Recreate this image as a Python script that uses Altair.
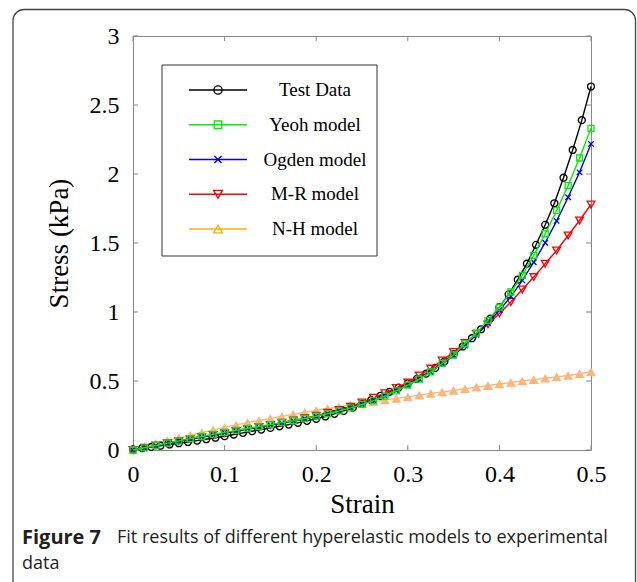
import altair as alt
import pandas as pd

# ---------------- data ----------------
MODEL_STRAIN = [0, 0.0125, 0.025, 0.0375, 0.05, 0.0625, 0.075, 0.0875, 0.1, 0.1125,
                0.125, 0.1375, 0.15, 0.1625, 0.175, 0.1875, 0.2, 0.2125, 0.225, 0.2375,
                0.25, 0.2625, 0.275, 0.2875, 0.3, 0.3125, 0.325, 0.3375, 0.35, 0.3625,
                0.375, 0.3875, 0.4, 0.4125, 0.425, 0.4375, 0.45, 0.4625, 0.475, 0.4875, 0.5]
TEST_STRAIN = [0, 0.01, 0.02, 0.03, 0.04, 0.05, 0.06, 0.07, 0.08, 0.09,
               0.1, 0.11, 0.12, 0.13, 0.14, 0.15, 0.16, 0.17, 0.18, 0.19,
               0.2, 0.21, 0.22, 0.23, 0.24, 0.25, 0.26, 0.27, 0.28, 0.29,
               0.3, 0.31, 0.32, 0.33, 0.34, 0.35, 0.36, 0.37, 0.38, 0.39,
               0.4, 0.41, 0.42, 0.43, 0.44, 0.45, 0.46, 0.47, 0.48, 0.49, 0.5]
TEST_DATA = [0.005, 0.013, 0.022, 0.031, 0.040, 0.049, 0.058, 0.068, 0.078, 0.089,
             0.100, 0.112, 0.124, 0.136, 0.148, 0.160, 0.172, 0.184, 0.197, 0.211,
             0.226, 0.243, 0.262, 0.283, 0.307, 0.333, 0.362, 0.392, 0.422, 0.452,
             0.483, 0.516, 0.553, 0.595, 0.642, 0.694, 0.750, 0.810, 0.875, 0.952,
             1.035, 1.128, 1.234, 1.350, 1.487, 1.632, 1.788, 1.973, 2.174, 2.390, 2.634]
YEOH = [0, 0.016, 0.033, 0.050, 0.066, 0.082, 0.098, 0.113, 0.128, 0.142,
        0.156, 0.170, 0.184, 0.198, 0.212, 0.228, 0.245, 0.263, 0.283, 0.305,
        0.330, 0.358, 0.390, 0.428, 0.470, 0.513, 0.566, 0.627, 0.690, 0.770,
        0.848, 0.940, 1.036, 1.145, 1.265, 1.410, 1.567, 1.735, 1.916, 2.116, 2.331]
OGDEN = [0, 0.015, 0.031, 0.047, 0.063, 0.079, 0.094, 0.109, 0.124, 0.138,
         0.152, 0.166, 0.180, 0.195, 0.210, 0.226, 0.244, 0.263, 0.284, 0.307,
         0.333, 0.361, 0.393, 0.430, 0.470, 0.515, 0.565, 0.622, 0.685, 0.757,
         0.835, 0.920, 1.012, 1.112, 1.229, 1.361, 1.502, 1.660, 1.832, 2.012, 2.218]
MR = [0, 0.016, 0.032, 0.048, 0.063, 0.078, 0.093, 0.108, 0.122, 0.137,
      0.151, 0.166, 0.181, 0.197, 0.213, 0.230, 0.249, 0.269, 0.290, 0.314,
      0.345, 0.378, 0.412, 0.450, 0.490, 0.540, 0.590, 0.648, 0.710, 0.775,
      0.840, 0.910, 0.990, 1.072, 1.163, 1.253, 1.350, 1.446, 1.554, 1.663, 1.779]
NH = [0, 0.025, 0.047, 0.068, 0.088, 0.108, 0.127, 0.146, 0.164, 0.181,
      0.198, 0.214, 0.229, 0.244, 0.259, 0.273, 0.287, 0.300, 0.313, 0.326,
      0.338, 0.350, 0.362, 0.374, 0.385, 0.398, 0.410, 0.420, 0.432, 0.444,
      0.456, 0.467, 0.478, 0.489, 0.500, 0.510, 0.520, 0.530, 0.540, 0.553, 0.566]

SERIES_NAMES = ["Test Data", "Yeoh model", "Ogden model", "M-R model", "N-H model"]
X_TICKS = [0, 0.1, 0.2, 0.3, 0.4, 0.5]
Y_TICKS = [0, 0.5, 1, 1.5, 2, 2.5, 3]

# ---------------- style ----------------
W, H = 458, 414
PAD_L, PAD_T = 133, 36
SERIF = "Liberation Serif"
SANS = "Open Sans"

STYLE = {
    "Test Data":   dict(color="#000000", shape="circle", filled=False, size=48, legend_color="#000000"),
    "Yeoh model":  dict(color="#00EE00", shape="square", filled=False, size=36, legend_color="#00EE00"),
    "Ogden model": dict(color="#0000FF", shape="M-1,-1L1,1M-1,1L1,-1", filled=False, size=30, legend_color="#0000FF"),
    "M-R model":   dict(color="#FF0000", shape="triangle-down", filled=False, size=60, legend_color="#FF0000"),
    "N-H model":   dict(color="#FDB57A", shape="triangle-up", filled=True, size=100, legend_color="#FFB000"),
}
SERIES_DATA = {
    "Test Data": (TEST_STRAIN, TEST_DATA),
    "Yeoh model": (MODEL_STRAIN, YEOH),
    "Ogden model": (MODEL_STRAIN, OGDEN),
    "M-R model": (MODEL_STRAIN, MR),
    "N-H model": (MODEL_STRAIN, NH),
}
DRAW_ORDER = ["N-H model", "Test Data", "M-R model", "Ogden model", "Yeoh model"]

xs = alt.Scale(domain=[0, 0.5], nice=False, zero=False)
ys = alt.Scale(domain=[0, 3], nice=False, zero=False)

xaxis = alt.Axis(title="Strain", values=X_TICKS, format="~g", grid=False, ticks=False,
                 domain=False, labelFont=SERIF, labelFontSize=24, labelColor="#000",
                 labelPadding=12, titleFont=SERIF, titleFontSize=27, titleFontWeight="normal",
                 titleColor="#000", titleY=54, titleBaseline="middle", labelFlush=False)
yaxis = alt.Axis(title="Stress (kPa)", values=Y_TICKS, format="~g", grid=False, ticks=False,
                 domain=False, labelFont=SERIF, labelFontSize=24, labelColor="#000",
                 labelPadding=14, titleFont=SERIF, titleFontSize=27, titleFontWeight="normal",
                 titleColor="#000", titleAngle=270, titleX=-74, titleY=H / 2,
                 titleAlign="center", titleBaseline="middle", labelFlush=False)

one = pd.DataFrame({"k": [0]})
layers = []

# outer rounded figure frame
layers.append(alt.Chart(one).mark_rect(fillOpacity=0, stroke="#444", strokeWidth=1.3,
                                       cornerRadius=11).encode(
    x=alt.value(13 - PAD_L), x2=alt.value(635.5 - PAD_L),
    y=alt.value(9.5 - PAD_T), y2=alt.value(620 - PAD_T)))

# inward ticks on all four sides
xt = pd.DataFrame({"tick": X_TICKS})
yt = pd.DataFrame({"tick": Y_TICKS})
tick_style = dict(color="#888", strokeWidth=1)
layers.append(alt.Chart(xt).mark_rule(**tick_style).encode(
    x=alt.X("tick:Q", scale=xs, axis=xaxis), y=alt.value(H), y2=alt.value(H - 5)))
layers.append(alt.Chart(xt).mark_rule(**tick_style).encode(
    x=alt.X("tick:Q", scale=xs, axis=xaxis), y=alt.value(0), y2=alt.value(5)))
layers.append(alt.Chart(yt).mark_rule(**tick_style).encode(
    y=alt.Y("tick:Q", scale=ys, axis=yaxis), x=alt.value(0), x2=alt.value(5)))
layers.append(alt.Chart(yt).mark_rule(**tick_style).encode(
    y=alt.Y("tick:Q", scale=ys, axis=yaxis), x=alt.value(W), x2=alt.value(W - 5)))

# data series
for name in DRAW_ORDER:
    sx, sy = SERIES_DATA[name]
    st = STYLE[name]
    df = pd.DataFrame({"strain": sx, "stress": sy})
    base = alt.Chart(df).encode(
        x=alt.X("strain:Q", scale=xs, axis=xaxis),
        y=alt.Y("stress:Q", scale=ys, axis=yaxis))
    layers.append(base.mark_line(color=st["color"], strokeWidth=1.4))
    layers.append(base.mark_point(shape=st["shape"], filled=st["filled"], color=st["color"],
                                  size=st["size"], strokeWidth=1.3, opacity=1))

# legend box
layers.append(alt.Chart(one).mark_rect(fillOpacity=0, stroke="#333", strokeWidth=1).encode(
    x=alt.value(162 - PAD_L), x2=alt.value(377 - PAD_L),
    y=alt.value(65 - PAD_T), y2=alt.value(256 - PAD_T)))

LEG_Y0, LEG_DY = 90 - PAD_T, 34.75
for i, name in enumerate(SERIES_NAMES):
    st = STYLE[name]
    yy = LEG_Y0 + i * LEG_DY
    c = st["legend_color"]
    layers.append(alt.Chart(one).mark_rule(color=c, strokeWidth=1.4).encode(
        x=alt.value(189 - PAD_L), x2=alt.value(247 - PAD_L), y=alt.value(yy)))
    layers.append(alt.Chart(one).mark_point(shape=st["shape"], filled=False, color=c,
                                            size=(st["size"] + 20) if name != "N-H model" else 80,
                                            strokeWidth=1.3, opacity=1).encode(
        x=alt.value(218 - PAD_L), y=alt.value(yy)))
    layers.append(alt.Chart(one).mark_text(font=SERIF, fontSize=19, color="#000",
                                           align="center", baseline="middle").encode(
        x=alt.value(315 - PAD_L), y=alt.value(yy), text=alt.value(name)))

# caption
layers.append(alt.Chart(one).mark_text(font=SANS, fontSize=20, fontWeight="bold", color="#231F20",
                                       align="left", baseline="middle").encode(
    x=alt.value(22 - PAD_L), y=alt.value(538 - PAD_T), text=alt.value("Figure 7")))
layers.append(alt.Chart(one).mark_text(font=SANS, fontSize=18, color="#231F20",
                                       align="left", baseline="middle").encode(
    x=alt.value(117 - PAD_L), y=alt.value(538 - PAD_T),
    text=alt.value("Fit results of different hyperelastic models to experimental")))
layers.append(alt.Chart(one).mark_text(font=SANS, fontSize=18, color="#231F20",
                                       align="left", baseline="middle").encode(
    x=alt.value(22 - PAD_L), y=alt.value(564 - PAD_T), text=alt.value("data")))

chart = alt.layer(*layers).properties(
    width=W, height=H,
    padding={"left": PAD_L, "top": PAD_T, "right": 637 - PAD_L - W, "bottom": 582 - PAD_T - H},
    autosize=alt.AutoSizeParams(type="none"),
    background="white",
).configure_view(stroke="#888", strokeWidth=1)

chart.save("out.html", embed_options={"renderer": "svg", "actions": False})
